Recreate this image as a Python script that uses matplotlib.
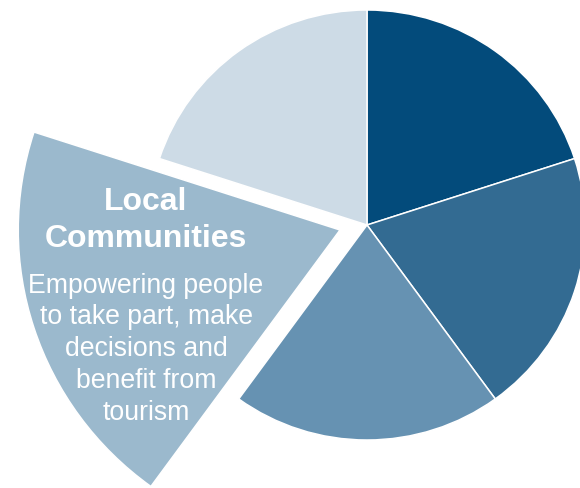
import matplotlib
matplotlib.use("Agg")
import matplotlib.pyplot as plt

categories = ["Segment A", "Segment B", "Segment C", "Local Communities", "Segment E"]
values = [20, 20, 20, 20, 20]
colors = ["#034b7b", "#336b92", "#6692b2", "#9bb9cd", "#cddbe6"]
title_lines = ["Local", "Communities"]
body_lines = ["Empowering people", "to take part, make", "decisions and", "benefit from", "tourism"]

W, H = 580, 488
SX = 1.015  # slight horizontal stretch seen in the reference
fig = plt.figure(figsize=(W / 100, H / 100), dpi=100)
ax = fig.add_axes([0, 0, 1, 1])

wedges, _ = ax.pie(values, colors=colors, startangle=90, counterclock=False,
                   center=(367 / SX, H - 225), radius=215,
                   wedgeprops=dict(edgecolor="white", linewidth=1.1))
ax.set_xlim(0, W / SX)
ax.set_ylim(0, H)
ax.set_aspect("auto")
ax.axis("off")

hl = categories.index("Local Communities")
w = wedges[hl]
w.set_center((340 / SX, H - 230))
w.set_radius(317)
w.set_zorder(3)

font = "Liberation Sans"
title_y = [210, 247]
for txt, y in zip(title_lines, title_y):
    ax.text(146 / SX, H - y, txt, ha="center", va="baseline", color="white",
            fontsize=23, fontweight="bold", family=font, zorder=5)
body_y = [293, 324, 356, 388, 420]
for txt, y in zip(body_lines, body_y):
    ax.text(146 / SX, H - y, txt, ha="center", va="baseline", color="white",
            fontsize=19.2, family=font, zorder=5)

fig.savefig("out.png", dpi=100)
